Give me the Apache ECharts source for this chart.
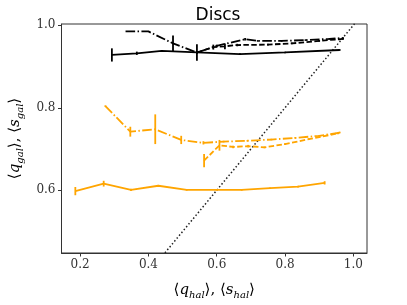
<!DOCTYPE html>
<html><head><meta charset="utf-8">
<script src="https://cdn.jsdelivr.net/npm/echarts@6/dist/echarts.min.js"></script>
<style>html,body{margin:0;padding:0;background:#fff}#c{width:407px;height:305px}</style>
</head><body><div id="c"></div>
<script>
// ---- data ----
const xTicks = [0.2, 0.4, 0.6, 0.8, 1.0];
const yTicks = [0.6, 0.8, 1.0];
const identityLine = [0.40, 1.10];

const orangeSolidX = [0.186, 0.269, 0.349, 0.429, 0.512, 0.600, 0.673, 0.756, 0.838, 0.916];
const orangeSolidY = [0.598, 0.616, 0.601, 0.611, 0.601, 0.601, 0.601, 0.605, 0.609, 0.618];
const orangeSolidE = [0.010, 0.007, 0.003, 0.002, 0.002, 0.002, 0.002, 0.002, 0.002, 0.004];

const orangeDashDotX = [0.274, 0.347, 0.420, 0.496, 0.561, 0.620, 0.690, 0.760, 0.830, 0.900, 0.960];
const orangeDashDotY = [0.804, 0.742, 0.748, 0.722, 0.715, 0.718, 0.720, 0.723, 0.727, 0.732, 0.740];
const orangeDashDotE = [0.002, 0.012, 0.036, 0.010, 0.004, 0.002, 0.002, 0.002, 0.002, 0.002, 0.002];

const orangeDashedX = [0.563, 0.608, 0.648, 0.692, 0.740, 0.800, 0.870, 0.955];
const orangeDashedY = [0.672, 0.709, 0.705, 0.707, 0.704, 0.712, 0.724, 0.738];
const orangeDashedE = [0.016, 0.013, 0.003, 0.003, 0.002, 0.002, 0.002, 0.002];

const blackSolidX = [0.293, 0.366, 0.439, 0.542, 0.668, 0.800, 0.960];
const blackSolidY = [0.928, 0.932, 0.938, 0.934, 0.930, 0.934, 0.940];
const blackSolidE = [0.016, 0.004, 0.002, 0.003, 0.002, 0.002, 0.002];

const blackDashDotX = [0.333, 0.400, 0.472, 0.542, 0.600, 0.683, 0.720, 0.790, 0.860, 0.930, 0.970];
const blackDashDotY = [0.985, 0.985, 0.956, 0.934, 0.950, 0.966, 0.962, 0.962, 0.964, 0.967, 0.969];
const blackDashDotE = [0.000, 0.000, 0.019, 0.020, 0.003, 0.003, 0.002, 0.002, 0.002, 0.002, 0.002];

const blackDashedX = [0.542, 0.590, 0.624, 0.660, 0.750, 0.820, 0.900, 0.970];
const blackDashedY = [0.934, 0.947, 0.949, 0.952, 0.953, 0.956, 0.962, 0.967];
const blackDashedE = [0.003, 0.006, 0.007, 0.003, 0.002, 0.002, 0.002, 0.002];

// ---- build ----
const ORANGE = '#FFA500', BLACK = '#000000';
const LW = 1.8;
const pairs = (xs, ys) => xs.map((x, i) => [x, ys[i]]);
const triples = (xs, ys, es) => xs.map((x, i) => [x, ys[i], es[i]]);

function lineSeries(xs, ys, color, type, z, w) {
  return { type: 'line', data: pairs(xs, ys), symbol: 'none', clip: true, z: z,
    lineStyle: { color: color, width: w || LW, type: type, cap: 'butt' }, animation: false, silent: true };
}
function errSeries(xs, ys, es, color, z) {
  return { type: 'custom', data: triples(xs, ys, es), encode: { x: 0, y: 1 }, z: z, animation: false, silent: true,
    renderItem: function (params, api) {
      const x = api.value(0), y = api.value(1), e = api.value(2);
      const p1 = api.coord([x, y - e]), p2 = api.coord([x, y + e]);
      return { type: 'line', shape: { x1: p1[0], y1: p1[1], x2: p2[0], y2: p2[1] },
        style: { stroke: color, lineWidth: LW } };
    } };
}
const DASHDOT = [9.6, 2.4, 1.5, 2.4];
const DASHED = [5.5, 2.4];
const DOTTED = [1.5, 2.2];

const serifFont = 'DejaVu Serif';
const rich = {
  it: { fontFamily: serifFont, fontStyle: 'italic', fontSize: 15, lineHeight: 20, verticalAlign: 'middle', color: '#000' },
  n: { fontFamily: serifFont, fontSize: 15, lineHeight: 20, verticalAlign: 'middle', color: '#000' },
  sub: { fontFamily: serifFont, fontStyle: 'italic', fontSize: 10, lineHeight: 11, verticalAlign: 'bottom', color: '#000' }
};

const chart = echarts.init(document.getElementById('c'), null, { renderer: 'canvas' });
chart.setOption({
  animation: false,
  backgroundColor: '#fff',
  title: { text: 'Discs', left: 213, top: 2, textAlign: 'center',
    textStyle: { fontFamily: 'DejaVu Sans', fontSize: 17, fontWeight: 'normal', color: '#000' } },
  grid: { left: 61, right: 40, top: 24, bottom: 47, show: true, borderColor: '#333', borderWidth: 1, backgroundColor: 'transparent' },
  xAxis: { type: 'value', min: 0.1455, max: 1.040,
    axisLine: { show: true, lineStyle: { color: '#333', width: 1 } },
    axisTick: { show: true, length: 3.5, lineStyle: { color: '#333' }, customValues: xTicks },
    axisLabel: { customValues: xTicks, formatter: v => v.toFixed(1), fontFamily: serifFont, fontSize: 12, color: '#333', margin: 6 },
    splitLine: { show: false },
    name: '{n|⟨}{it|q}{sub|hal}{n|⟩, ⟨}{it|s}{sub|hal}{n|⟩}', nameLocation: 'middle', nameGap: 27,
    nameTextStyle: { rich: rich } },
  yAxis: { type: 'value', min: 0.448, max: 1.003,
    axisLine: { show: true, lineStyle: { color: '#333', width: 1 } },
    axisTick: { show: true, length: 3.5, lineStyle: { color: '#333' }, customValues: yTicks },
    axisLabel: { customValues: yTicks, formatter: v => v.toFixed(1), fontFamily: serifFont, fontSize: 12, color: '#333', margin: 6 },
    splitLine: { show: false },
    name: '{n|⟨}{it|q}{sub|gal}{n|⟩, ⟨}{it|s}{sub|gal}{n|⟩}', nameLocation: 'middle', nameGap: 36, nameRotate: 90,
    nameTextStyle: { rich: rich } },
  series: [
    lineSeries(identityLine, identityLine, '#222', DOTTED, 1, 1.5),
    lineSeries(orangeSolidX, orangeSolidY, ORANGE, 'solid', 2),
    errSeries(orangeSolidX, orangeSolidY, orangeSolidE, ORANGE, 2),
    lineSeries(orangeDashDotX, orangeDashDotY, ORANGE, DASHDOT, 2),
    errSeries(orangeDashDotX, orangeDashDotY, orangeDashDotE, ORANGE, 2),
    lineSeries(orangeDashedX, orangeDashedY, ORANGE, DASHED, 2),
    errSeries(orangeDashedX, orangeDashedY, orangeDashedE, ORANGE, 2),
    lineSeries(blackSolidX, blackSolidY, BLACK, 'solid', 3),
    errSeries(blackSolidX, blackSolidY, blackSolidE, BLACK, 3),
    lineSeries(blackDashDotX, blackDashDotY, BLACK, DASHDOT, 3),
    errSeries(blackDashDotX, blackDashDotY, blackDashDotE, BLACK, 3),
    lineSeries(blackDashedX, blackDashedY, BLACK, DASHED, 3),
    errSeries(blackDashedX, blackDashedY, blackDashedE, BLACK, 3)
  ]
});
</script>
</body></html>
